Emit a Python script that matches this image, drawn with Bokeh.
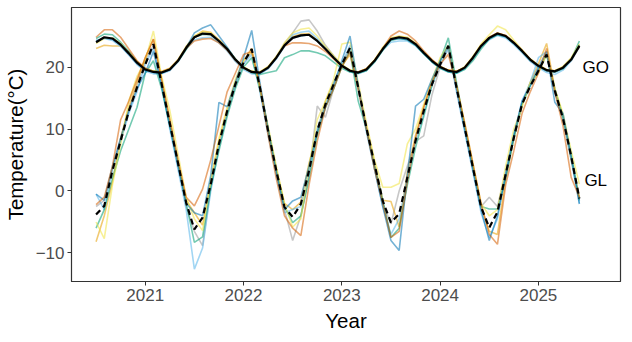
import pandas as pd
from bokeh.plotting import figure
from bokeh.models import FixedTicker, ColumnDataSource
from bokeh.core.properties import value
from bokeh.embed import file_html
from bokeh.resources import INLINE

# ---- data (monthly, Jul 2020 .. Jun 2025) ----
months = pd.date_range("2020-07-01", "2025-06-01", freq="MS")
x = list(months.year + (months.month - 1) / 12.0)

go_mean = [24.0, 24.8, 24.6, 23.6, 22.2, 20.7, 19.6, 19.2, 19.1, 19.6, 21.0, 23.1,
           24.8, 25.4, 25.3, 24.2, 22.9, 21.2, 19.9, 19.2, 19.1, 19.9, 21.5, 23.5,
           24.7, 25.1, 25.2, 24.2, 22.9, 21.5, 20.2, 19.4, 19.1, 19.6, 21.0, 22.9,
           24.5, 24.8, 24.6, 23.7, 22.3, 21.0, 20.0, 19.4, 19.2, 19.9, 21.5, 23.4,
           24.7, 25.4, 25.0, 23.9, 22.6, 21.2, 20.2, 19.5, 19.3, 19.9, 21.2, 23.4]
gl_mean = [-3.8, -2.4, 3.3, 8.1, 12.9, 16.7, 20.4, 23.7, 17.3, 10.9, 4.5, -1.9,
           -6.2, -4.3, 1.1, 7.6, 12.9, 17.2, 20.7, 22.9, 16.7, 9.7, 3.3, -2.6,
           -4.2, -2.1, 3.3, 9.7, 14.0, 17.2, 20.4, 23.1, 16.7, 10.2, 4.3, -1.6,
           -5.1, -3.7, 2.2, 8.1, 12.9, 17.2, 20.4, 23.4, 16.7, 10.2, 3.8, -2.6,
           -5.9, -3.4, 2.7, 8.6, 14.0, 16.9, 19.4, 22.0, 16.2, 11.7, 5.6, -1.2]

go_grey = [24.2, 24.7, 24.5, 23.5, 22.0, 20.5, 19.5, 19.2, 19.0, 19.5, 21.0, 23.0,
           24.8, 25.3, 25.2, 24.0, 22.8, 21.0, 19.8, 19.0, 19.0, 19.8, 21.5, 23.8,
           25.5, 27.4, 27.6, 25.8, 23.5, 21.8, 20.2, 19.3, 19.0, 19.5, 21.0, 22.8,
           24.5, 24.7, 24.5, 23.6, 22.2, 21.0, 20.0, 19.3, 19.1, 19.8, 21.3, 23.2,
           24.6, 25.2, 25.0, 23.8, 22.5, 21.0, 20.0, 19.4, 19.2, 19.8, 21.0, 23.2]
go_orange = [23.0, 23.5, 23.4, 23.4, 22.4, 20.9, 19.8, 19.3, 19.3, 19.8, 21.2, 23.3,
             24.9, 25.8, 25.6, 24.4, 23.0, 21.3, 20.0, 19.3, 19.2, 20.0, 21.6, 23.6,
             24.9, 25.3, 25.4, 24.3, 23.0, 21.6, 20.3, 19.5, 19.2, 19.7, 21.1, 23.0,
             24.6, 24.9, 24.7, 23.8, 22.4, 21.1, 20.1, 19.5, 19.3, 20.0, 21.6, 23.5,
             24.8, 25.5, 25.1, 24.0, 22.7, 21.3, 20.3, 19.6, 19.4, 20.0, 21.3, 23.6]
go_sky = [24.3, 24.6, 24.3, 23.3, 21.9, 20.4, 19.3, 18.9, 18.9, 19.4, 20.8, 22.9,
          24.4, 24.7, 24.8, 23.9, 22.6, 20.9, 19.6, 18.9, 18.9, 19.7, 21.3, 23.3,
          25.2, 25.6, 25.8, 24.6, 23.1, 21.6, 20.1, 19.2, 18.9, 19.4, 20.8, 22.7,
          24.0, 24.2, 24.2, 23.4, 22.1, 20.8, 19.8, 19.2, 19.0, 19.7, 21.3, 23.2,
          24.4, 25.1, 24.7, 23.6, 22.3, 20.9, 19.9, 19.1, 18.8, 19.5, 21.0, 23.3]
go_green = [24.6, 25.3, 25.2, 24.0, 22.5, 20.8, 19.7, 19.3, 19.1, 19.6, 20.9, 22.8,
            24.8, 25.3, 25.2, 24.2, 23.0, 21.3, 19.9, 19.1, 18.8, 19.1, 19.4, 21.5,
            22.0, 22.6, 22.6, 22.3, 21.8, 20.8, 19.8, 19.2, 19.0, 19.4, 20.8, 22.7,
            24.3, 24.6, 24.4, 23.5, 22.1, 20.8, 19.8, 19.2, 19.0, 19.6, 21.0, 22.9,
            24.5, 25.2, 24.9, 23.8, 22.5, 21.1, 20.1, 19.4, 19.2, 19.7, 21.2, 24.2]
go_yellow = [23.8, 24.6, 24.7, 23.8, 22.3, 20.8, 19.7, 19.3, 19.2, 19.7, 21.1, 23.3,
             25.0, 25.7, 25.5, 24.3, 23.0, 21.3, 20.0, 19.3, 19.2, 20.1, 21.7, 23.9,
             25.5, 26.1, 26.3, 25.0, 23.3, 21.8, 20.4, 19.5, 19.2, 19.7, 21.2, 23.2,
             24.7, 25.0, 24.8, 23.8, 22.4, 21.1, 20.1, 19.5, 19.3, 20.0, 21.7, 23.7,
             25.2, 26.6, 26.0, 24.3, 22.8, 21.3, 20.3, 19.6, 19.4, 20.1, 21.5, 23.7]
go_blue = [24.1, 24.7, 24.5, 23.5, 22.1, 20.6, 19.5, 19.1, 19.0, 19.6, 21.0, 23.1,
           25.5, 26.3, 26.8, 25.0, 23.2, 21.3, 19.9, 19.2, 19.0, 19.8, 21.4, 23.4,
           24.7, 25.0, 25.2, 24.2, 22.9, 21.5, 20.2, 19.4, 19.1, 19.6, 21.0, 22.9,
           24.4, 24.6, 24.4, 23.6, 22.2, 20.9, 19.9, 19.3, 19.1, 19.8, 21.4, 23.3,
           24.6, 25.3, 24.9, 23.8, 22.5, 21.1, 20.1, 19.4, 19.2, 19.8, 21.1, 23.5]
go_verm = [24.8, 26.0, 26.0, 24.8, 22.9, 21.0, 19.8, 19.3, 19.2, 19.7, 21.0, 23.0,
           24.2, 24.5, 24.6, 23.9, 22.7, 21.1, 19.8, 19.2, 19.1, 19.9, 21.5, 23.4,
           23.9, 23.9, 23.8, 23.4, 22.5, 21.3, 20.1, 19.4, 19.2, 19.7, 21.1, 23.0,
           25.0, 25.8, 25.3, 24.2, 22.6, 21.2, 20.1, 19.5, 19.3, 19.9, 21.5, 23.5,
           24.8, 25.5, 25.1, 24.0, 22.7, 21.2, 20.2, 19.5, 19.3, 19.9, 21.2, 23.3]

gl_grey = [-2.5, -1.5, 3.5, 8.5, 13.0, 17.0, 21.0, 23.5, 17.5, 11.0, 5.0, -2.5,
           -6.5, -8.8, 0.5, 7.0, 12.5, 17.0, 20.5, 22.5, 16.5, 9.5, 3.0, -3.0,
           -8.0, -4.0, 2.5, 13.7, 11.9, 16.5, 20.5, 23.0, 16.5, 10.0, 4.0, -2.0,
           -5.3, 0.0, 4.0, 8.0, 8.9, 15.5, 20.0, 23.0, 16.5, 10.0, 3.5, -2.5,
           -1.0, -2.5, 3.0, 9.0, 14.0, 17.0, 19.5, 22.0, 16.0, 11.5, 5.5, -1.5]
gl_orange = [-8.2, -4.0, 1.5, 8.5, 13.5, 17.5, 21.5, 24.5, 18.0, 11.5, 4.5, -1.5,
             -3.5, -5.5, 1.5, 8.0, 13.0, 17.5, 21.0, 23.0, 17.0, 10.0, 3.5, -2.0,
             -3.0, -1.8, 4.5, 9.5, 14.5, 17.5, 20.2, 22.0, 16.5, 10.5, 4.5, -1.5,
             -1.7, -5.8, 3.0, 9.0, 13.5, 17.5, 21.0, 23.5, 17.0, 10.5, 4.0, -2.5,
             -6.5, -7.0, 2.0, 8.5, 14.0, 17.5, 20.5, 23.8, 16.5, 12.0, 5.0, -1.0]
gl_sky = [-0.5, -3.0, 3.5, 8.0, 12.5, 16.0, 20.5, 23.0, 17.0, 10.0, 3.5, -3.0,
          -12.6, -9.2, 0.0, 7.0, 12.5, 17.0, 20.5, 22.0, 16.0, 9.0, 2.5, -3.5,
          -3.0, -2.5, 3.0, 10.0, 14.0, 17.5, 20.5, 23.5, 16.5, 9.5, 3.5, -2.5,
          -7.0, -4.5, 2.0, 8.0, 12.5, 17.0, 20.5, 23.0, 16.0, 9.5, 3.0, -3.5,
          -7.5, -4.5, 3.0, 9.0, 14.5, 17.5, 21.5, 22.5, 16.0, 11.5, 5.0, -2.0]
gl_green = [-6.0, -3.0, 2.0, 6.5, 10.0, 13.5, 19.0, 21.0, 16.5, 10.5, 4.5, -2.0,
            -8.3, -7.4, 0.5, 6.5, 12.0, 16.5, 20.0, 21.5, 16.5, 10.0, 3.5, -2.5,
            -5.1, -4.0, 2.0, 9.0, 13.5, 16.5, 20.0, 22.6, 14.5, 10.0, 4.0, -1.5,
            -7.5, -6.0, 1.0, 7.0, 12.0, 17.0, 21.0, 24.7, 17.5, 10.5, 4.0, -2.5,
            -2.9, -2.9, 2.0, 8.5, 14.0, 17.0, 19.5, 22.0, 16.5, 12.0, 6.0, -1.5]
gl_yellow = [-5.0, -7.7, 1.0, 7.5, 14.5, 18.5, 21.0, 25.8, 18.5, 13.0, 6.0, -1.0,
             -4.5, -6.4, 2.0, 8.5, 13.5, 18.0, 21.0, 22.5, 16.5, 10.5, 4.0, -2.0,
             -5.8, -4.5, 4.0, 11.5, 14.5, 18.0, 23.7, 24.0, 17.5, 11.0, 5.0, 0.6,
             0.6, 1.2, 7.6, 10.0, 14.0, 18.0, 21.5, 23.5, 17.0, 11.0, 4.5, -2.0,
             -4.0, -3.0, 4.0, 10.0, 13.5, 17.5, 19.0, 22.0, 16.5, 12.5, 6.5, 1.1]
gl_blue = [-0.5, -1.5, 4.0, 8.5, 13.0, 16.5, 19.0, 22.5, 17.0, 10.5, 4.0, -2.0,
           -3.5, -4.0, 2.5, 14.3, 13.6, 17.5, 21.5, 25.9, 17.5, 10.0, 3.0, -3.0,
           -1.6, -1.0, 4.0, 9.5, 13.5, 17.0, 21.0, 25.0, 17.0, 10.0, 3.5, -2.5,
           -8.0, -9.6, 2.5, 13.7, 14.8, 18.0, 21.0, 23.5, 16.5, 10.0, 3.5, -3.0,
           -8.0, -4.0, 2.5, 9.0, 14.5, 17.0, 20.0, 22.5, 14.3, 12.5, 5.5, -2.1]
gl_verm = [-2.2, -1.0, 4.0, 11.5, 14.5, 18.0, 21.5, 24.5, 18.0, 11.5, 5.0, -1.0,
           -2.4, 0.3, 5.0, 10.5, 16.0, 19.0, 22.0, 22.5, 17.0, 9.0, 2.0, -4.0,
           -6.0, -7.2, 1.0, 8.0, 13.5, 16.5, 20.0, 22.5, 16.5, 10.0, 3.5, -2.0,
           -7.5, -6.5, 1.5, 8.5, 13.5, 17.5, 20.5, 22.0, 17.0, 11.0, 4.5, -2.0,
           -7.0, -8.6, 1.0, 6.5, 12.5, 16.0, 19.0, 23.0, 16.0, 10.5, 2.2, -1.0]

series_colors = ["#999999", "#E69F00", "#56B4E9", "#009E73", "#F0E442", "#0072B2", "#D55E00"]
go_series = [go_grey, go_orange, go_sky, go_green, go_yellow, go_blue, go_verm]
gl_series = [gl_grey, gl_orange, gl_sky, gl_green, gl_yellow, gl_blue, gl_verm]

label_names = ["GO", "GL"]
label_x = [2025.583, 2025.583]
label_y = [19.9, 1.7]

x_ticks = [2021, 2022, 2023, 2024, 2025]
y_ticks = [-10, 0, 10, 20]

FONT = "Liberation Sans"

p = figure(frame_width=549, frame_height=274, output_backend="svg", toolbar_location=None,
           x_range=(2020.25, 2025.835), y_range=(-14.6, 29.6),
           min_border_left=69, min_border_right=2, min_border_top=7, min_border_bottom=40)

for s_go, s_gl, c in zip(go_series, gl_series, series_colors):
    p.line(x, s_gl, line_color=c, line_alpha=0.55, line_width=1.6)
    p.line(x, s_go, line_color=c, line_alpha=0.55, line_width=1.6)

p.line(x, gl_mean, line_color="black", line_width=2.2, line_dash="6 4")
p.line(x, go_mean, line_color="black", line_width=2.2)

lsrc = ColumnDataSource(dict(x=label_x, y=label_y, t=label_names))
p.text(x="x", y="y", text="t", source=lsrc, text_align="center", text_baseline="middle",
       text_font=value(FONT), text_font_size="17px", text_color="black")

p.xgrid.visible = False
p.ygrid.visible = False
p.background_fill_color = "white"
p.border_fill_color = "white"
p.outline_line_color = "#333333"
p.outline_line_width = 1.2
p.outline_line_alpha = 1.0

p.xaxis.ticker = FixedTicker(ticks=x_ticks)
p.yaxis.ticker = FixedTicker(ticks=y_ticks)
p.yaxis.major_label_overrides = {-10: "\u221210"}

for ax in (p.xaxis, p.yaxis):
    ax.axis_line_color = "#333333"
    ax.major_tick_line_color = "#333333"
    ax.major_tick_out = 4
    ax.major_tick_in = 0
    ax.minor_tick_line_color = None
    ax.major_label_text_font = FONT
    ax.major_label_text_font_size = "17px"
    ax.major_label_text_color = "#4D4D4D"
    ax.axis_label_text_font = FONT
    ax.axis_label_text_font_size = "20.5px"
    ax.axis_label_text_font_style = "normal"
    ax.axis_label_text_color = "black"
    ax.major_label_standoff = 3

p.xaxis.axis_label = "Year"
p.yaxis.axis_label = "Temperature(°C)"
p.xaxis.axis_label_standoff = 5
p.yaxis.axis_label_standoff = 6

open("out.html", "w").write(file_html(p, INLINE))
